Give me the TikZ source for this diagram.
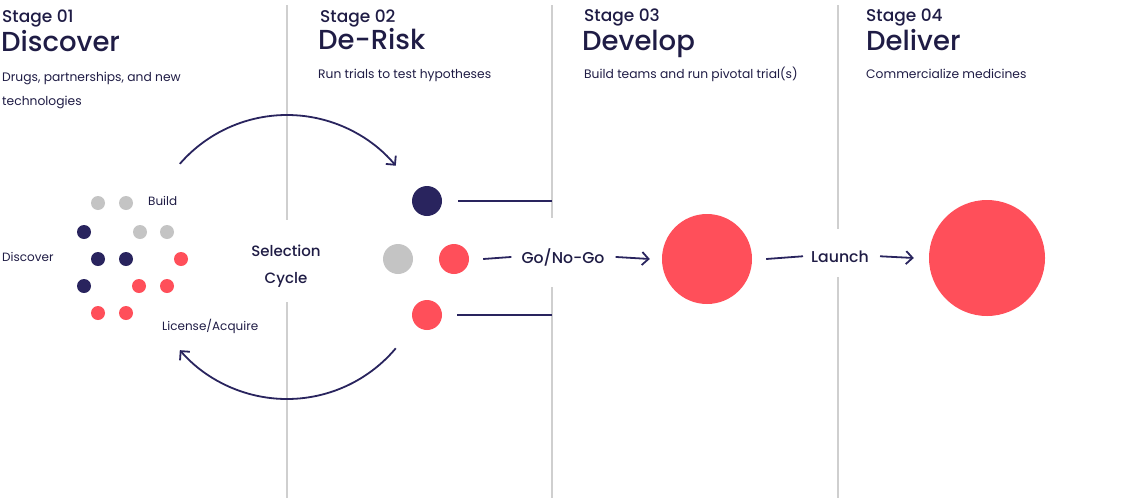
\documentclass[tikz,border=0pt]{standalone}
\usepackage{fontspec}
\setmainfont{Poppins}
\newfontfamily\medfont{Poppins Medium}
\usetikzlibrary{arrows.meta,calc}
\definecolor{navy}{HTML}{29245E}
\definecolor{ink}{HTML}{1F1C45}
\definecolor{coral}{HTML}{FF4F5A}
\definecolor{dotgray}{HTML}{C4C4C4}
\definecolor{rulegray}{HTML}{CFCFCF}
\tikzset{
  txt/.style={inner sep=0pt, anchor=base west, text=ink},
  stagelbl/.style={txt, font=\fontsize{17}{20}\selectfont\medfont},
  title/.style={txt, font=\fontsize{27.5}{32}\selectfont\medfont},
  desc/.style={txt, font=\fontsize{12.3}{24}\selectfont, align=left},
  small/.style={txt, font=\fontsize{12}{14}\selectfont},
  mid/.style={txt, font=\fontsize{15}{27}\selectfont\medfont, align=center, anchor=center},
  lbl/.style={txt, font=\fontsize{15.7}{18}\selectfont\medfont, anchor=base},
  sep/.style={draw=rulegray, line width=1.5pt},
  conn/.style={draw=navy, line width=1.8pt},
  arr/.style={conn, -{Straight Barb[length=6.5pt, width=13pt, line width=1.8pt]}},
  dot/.style={circle, fill=#1, minimum size=14pt, inner sep=0pt},
  mdot/.style={circle, fill=#1, minimum size=30pt, inner sep=0pt},
}
\begin{document}
\begin{tikzpicture}[x=1pt, y=-1pt]
\useasboundingbox (0,0) rectangle (1142,498);
% separators
\coordinate (s1a) at (287,5);   \coordinate (s1b) at (287,220);
\coordinate (s1c) at (287,302); \coordinate (s1d) at (287,498);
\coordinate (s2a) at (552,5);   \coordinate (s2b) at (552,218);
\coordinate (s2c) at (552,287); \coordinate (s2d) at (552,498);
\coordinate (s3a) at (838,5);   \coordinate (s3b) at (838,229);
\coordinate (s3c) at (838,277); \coordinate (s3d) at (838,498);
\draw[sep] (s1a) -- (s1b) (s1c) -- (s1d);
\draw[sep] (s2a) -- (s2b) (s2c) -- (s2d);
\draw[sep] (s3a) -- (s3b) (s3c) -- (s3d);
% headings
\node[stagelbl] (st1) at (2,22) {Stage 01};
\node[title] (t1) at (1,51) {Discover};
\node[desc] (d1) at (2,105) {Drugs, partnerships, and new\\technologies};
\node[stagelbl] (st2) at (320,22) {Stage 02};
\node[title] (t2) at (318,49) {De-Risk};
\node[desc] (d2) at (318,78) {Run trials to test hypotheses};
\node[stagelbl] (st3) at (584,21) {Stage 03};
\node[title] (t3) at (582,50) {Develop};
\node[desc] (d3) at (584,78) {Build teams and run pivotal trial(s)};
\node[stagelbl] (st4) at (866,21) {Stage 04};
\node[title] (t4) at (866,50) {Deliver};
\node[desc] (d4) at (866,78) {Commercialize medicines};
% discover dots
\node[dot=dotgray] (a1) at (98,203) {};
\node[dot=dotgray] (a2) at (126,203) {};
\node[dot=navy] (b1) at (84,232) {};
\node[dot=dotgray] (b2) at (140,232) {};
\node[dot=dotgray] (b3) at (167,232) {};
\node[dot=navy] (c1) at (98,259) {};
\node[dot=navy] (c2) at (126,259) {};
\node[dot=coral] (c3) at (181,259) {};
\node[dot=navy] (e1) at (84,286) {};
\node[dot=coral] (e2) at (139,286) {};
\node[dot=coral] (e3) at (167,286) {};
\node[dot=coral] (f1) at (98,313) {};
\node[dot=coral] (f2) at (126,313) {};
\node[small] (build) at (148,205) {Build};
\node[small] (disc) at (2,261) {Discover};
\node[small] (lic) at (162,330) {License/Acquire};
\node[mid] (sel) at (286,266) {Selection\\Cycle};
% cycle arrows
\coordinate (cy) at (287,257);
\draw[arr] ($(cy)+(-139:142)$) arc[start angle=-139, end angle=-40, radius=142];
\draw[arr] ($(cy)+(40:142)$) arc[start angle=40, end angle=139, radius=142];
% derisk dots
\node[mdot=navy] (r1) at (427,201) {};
\node[mdot=dotgray] (r2) at (398,259) {};
\node[mdot=coral] (r3) at (454,259) {};
\node[mdot=coral] (r4) at (427,315) {};
\coordinate (l1) at (552,201);
\coordinate (l4) at (552,315);
\draw[conn] ([xshift=16pt]r1.east) -- (l1);
\draw[conn] ([xshift=15pt]r4.east) -- (l4);
% go / no-go
\node[lbl] (go) at (563,263) {Go/No-Go};
\node[circle, fill=coral, minimum size=90pt, inner sep=0pt] (dev) at (707,259) {};
\draw[conn] ([xshift=14pt]r3.east) -- ([xshift=-10pt]go.west);
\draw[arr] ([xshift=11pt]go.east) -- ([xshift=-12pt]dev.west);
% launch
\node[lbl] (la) at (840,262) {Launch};
\node[circle, fill=coral, minimum size=116pt, inner sep=0pt] (del) at (987,258) {};
\draw[conn] ([xshift=14pt]dev.east) -- ([xshift=-8pt]la.west);
\draw[arr] ([xshift=11pt]la.east) -- ([xshift=-15pt]del.west);
\end{tikzpicture}
\end{document}
